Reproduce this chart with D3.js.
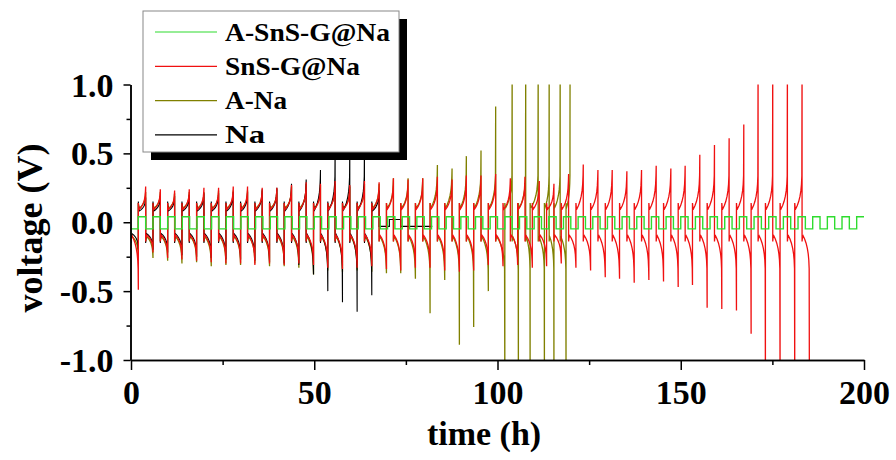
<!DOCTYPE html>
<html><head><meta charset="utf-8">
<script src="https://cdn.jsdelivr.net/npm/d3@7"></script>
<style>body{margin:0;background:#fff;overflow:hidden}</style>
</head><body><svg id="c" width="896" height="460"></svg>
<script>
// ---------------- data ----------------
const xTicks = [0, 50, 100, 150, 200];
const xTickLabels = ["0", "50", "100", "150", "200"];
const xMinorTicks = [25, 75, 125, 175];
const yTicks = [-1.0, -0.5, 0.0, 0.5, 1.0];
const yTickLabels = ["-1.0", "-0.5", "0.0", "0.5", "1.0"];
const yMinorTicks = [-0.75, -0.25, 0.25, 0.75];
const seriesNames = ["A-SnS-G@Na", "SnS-G@Na", "A-Na", "Na"];
const seriesColors = ["#2edc2e", "#f01010", "#808000", "#000000"];

// end time (h) of each half-cycle; halves alternate, starting with a negative one
const redTurnT = [2.0,4.0,6.0,8.0,10.0,11.9,13.9,15.9,17.9,19.9,21.9,23.9,25.9,27.9,29.9,31.8,33.8,35.8,37.8,39.8,
  41.8,43.8,45.8,47.8,49.8,51.7,53.7,55.7,57.7,59.7,61.7,63.7,65.7,67.7,69.7,71.6,73.6,75.6,77.6,79.6,
  81.6,83.6,85.6,87.6,89.6,91.5,93.5,95.5,97.5,99.5,101.5,103.5,105.5,107.5,109.5,111.4,113.4,115.4,117.4,119.4,
  121.4,123.4,125.4,127.4,129.4,131.3,133.3,135.3,137.3,139.3,141.3,143.3,145.3,147.3,149.3,151.2,153.2,155.2,157.2,159.2,
  161.2,163.2,165.2,167.2,169.2,171.1,173.1,175.1,177.1,179.1,181.1,183.1,185.1];
const redNegPeak = [-0.49,-0.22,-0.26,-0.27,-0.28,-0.29,-0.30,-0.30,-0.31,-0.30,-0.31,-0.30,-0.31,-0.33,-0.34,-0.33,
  -0.32,-0.34,-0.35,-0.33,-0.33,-0.35,-0.36,-0.35,-0.31,-0.32,-0.31,-0.33,-0.32,-0.30,-0.33,-0.35,-0.40,-0.41,-0.44,
  -0.42,-0.43,-0.47,-0.455,-0.62,-0.63,-0.64,-0.81,-1.2,-1.2,-1.2,-1.2];
const redPosPeak = [0.26,0.24,0.23,0.24,0.25,0.25,0.26,0.26,0.25,0.25,0.27,0.29,0.28,0.30,0.27,0.30,0.29,0.32,0.31,0.32,
  0.33,0.31,0.34,0.34,0.35,0.32,0.33,0.30,0.28,0.35,0.42,0.38,0.38,0.37,0.38,0.41,0.39,0.41,0.49,0.56,
  0.61,0.71,1.2,1.2,1.2,1.2];

const oliveTurnT = [2.0,4.0,6.0,8.0,10.0,11.9,13.9,15.9,17.9,19.9,21.9,23.9,25.9,27.9,29.9,31.8,33.8,35.8,37.8,39.8,
  41.8,43.8,45.8,47.8,49.8,51.7,53.7,55.7,57.7,59.7,61.7,63.7,65.7,67.7,69.7,71.6,73.6,75.6,77.6,79.6,
  81.6,83.6,85.6,87.6,89.6,91.5,93.5,95.5,97.5,99.5,102.0,104.0,105.7,107.7,108.9,111.1,112.8,114.1,115.4,117.1,118.7,119.8];
const oliveNegPeak = [-0.25,-0.26,-0.28,-0.30,-0.29,-0.32,-0.31,-0.31,-0.30,-0.32,-0.32,-0.33,-0.38,-0.35,-0.36,-0.35,
  -0.36,-0.37,-0.37,-0.41,-0.66,-0.42,-0.89,-0.76,-0.50,-1.2,-1.2,-1.2,-1.2,-1.2,-1.2];
const olivePosPeak = [0.22,0.22,0.21,0.22,0.22,0.23,0.23,0.23,0.23,0.24,0.26,0.28,0.27,0.28,0.26,0.28,0.28,0.32,0.32,0.32,
  0.415,0.39,0.48,0.52,0.84,1.2,1.2,1.2,1.2,1.2,1.2];

const blackTurnT = [2.0,4.0,6.0,8.0,10.0,11.9,13.9,15.9,17.9,19.9,21.9,23.9,25.9,27.9,29.9,31.8,33.8,35.8,37.8,39.8,
  41.8,43.8,45.8,47.8,49.8,51.7,53.7,55.7,57.7,59.7,61.7,63.7,65.7,67.7];
const blackNegPeak = [-0.20,-0.20,-0.22,-0.24,-0.25,-0.26,-0.27,-0.27,-0.28,-0.29,-0.30,-0.31,-0.38,-0.50,-0.58,-0.65,-0.53];
const blackPosPeak = [0.18,0.19,0.19,0.20,0.21,0.21,0.22,0.22,0.24,0.25,0.28,0.31,0.38,0.62,0.62,0.62,0.23];
// shorted "Na" cell after ~68 h
const blackTailT = [67.7, 70.5, 70.5, 73.6, 73.6, 82.2];
const blackTailV = [-0.03, -0.03, 0.02, 0.02, -0.03, -0.03];

// green: end time of each constant step, and its level
const greenTurnT = [2,4,6,8,10,12,14,16,18,20,22,24,26,28,30,32,34,36,38,40,42,44,46,48,50,52,54,56,58,60,
  62,64,66,68,70,72,74,76,78,80,82,84,86,88,90,92,94,96,98,100,102,104,106,108,110,112,114,116,118,120,
  122,124,126,128,130,132,134,136,138,140,142,144,146,148,150,152,154,156,158,160,162,164,166,168,170,172,174,176,178,180,
  182,184,186,188,190,192,194,196,198,200];
const greenLevel = [-0.048,0.04,-0.048,0.04,-0.048,0.04,-0.048,0.04,-0.048,0.04,-0.048,0.04,-0.048,0.04,-0.048,0.04,-0.048,0.04,-0.048,0.04,
  -0.048,0.04,-0.048,0.04,-0.048,0.04,-0.048,0.04,-0.048,0.04,-0.048,0.04,-0.048,0.04,-0.048,0.04,-0.048,0.04,-0.048,0.04,
  -0.048,0.04,-0.048,0.04,-0.048,0.04,-0.048,0.04,-0.048,0.04,-0.048,0.04,-0.048,0.04,-0.048,0.04,-0.048,0.04,-0.048,0.04,
  -0.048,0.04,-0.048,0.04,-0.048,0.04,-0.048,0.04,-0.048,0.04,-0.048,0.04,-0.048,0.04,-0.048,0.04,-0.048,0.04,-0.048,0.04,
  -0.048,0.04,-0.048,0.04,-0.048,0.04,-0.048,0.04,-0.048,0.04,-0.048,0.04,-0.048,0.04,-0.048,0.04,-0.048,0.04,-0.048,0.04];

// shape of one half-cycle (fraction of the half, hook weight, rise weight)
const halfU = [0, 0.04, 0.15, 0.35, 0.55, 0.72, 0.84, 0.92, 0.97, 1];
const hookW = [1, 0.5, 0, 0, 0, 0, 0, 0, 0, 0];
const riseW = [0, 0, 0.03, 0.1, 0.2, 0.32, 0.45, 0.6, 0.8, 1];
const bodyCap = 0.4;   // the curved body never exceeds this before the final spike

// ---------------- build ----------------
function cycles(turnT, negPeak, posPeak, plateau, hook) {
  const pts = [];
  let t0 = 0, ni = 0, pi = 0;
  turnT.forEach((t1, k) => {
    const peak = k % 2 === 0 ? negPeak[ni++] : posPeak[pi++];
    const s = Math.sign(peak), a = Math.abs(peak), b = Math.min(a, bodyCap);
    halfU.forEach((u, j) => {
      const last = j === halfU.length - 1;
      const v = last ? peak : s * (plateau + hook * hookW[j] + (b - plateau) * riseW[j]);
      pts.push([t0 + (t1 - t0) * u, v]);
    });
    t0 = t1;
  });
  return pts;
}
function steps(turnT, level) {
  const pts = [];
  let t0 = 0;
  turnT.forEach((t1, k) => { pts.push([t0, level[k]], [t1, level[k]]); t0 = t1; });
  return pts;
}
const redPts = cycles(redTurnT, redNegPeak, redPosPeak, 0.09, 0.05);
const olivePts = cycles(oliveTurnT, oliveNegPeak, olivePosPeak, 0.10, 0.04);
const blackPts = cycles(blackTurnT, blackNegPeak, blackPosPeak, 0.08, 0.07)
  .concat(blackTailT.map((t, i) => [t, blackTailV[i]]));
const greenPts = steps(greenTurnT, greenLevel);

// ---------------- draw ----------------
const svg = d3.select("#c");
const x = d3.scaleLinear([0, 200], [131, 864]);
const y = d3.scaleLinear([-1, 1], [360, 84.5]);
const font = "'Liberation Serif','Times New Roman',serif";

svg.append("defs").append("clipPath").attr("id", "clip")
  .append("rect").attr("x", x(0)).attr("y", y(1)).attr("width", x(200) - x(0)).attr("height", y(-1) - y(1));

const line = d3.line().x(d => x(d[0])).y(d => y(d[1]));
const g = svg.append("g").attr("clip-path", "url(#clip)");
[[olivePts, seriesColors[2], 1.3], [blackPts, seriesColors[3], 1.1], [redPts, seriesColors[1], 1.3], [greenPts, seriesColors[0], 1.4]]
  .forEach(([pts, c, w]) => {
    g.append("path").attr("d", line(pts)).attr("fill", "none").attr("stroke", c)
      .attr("stroke-width", w).attr("stroke-linejoin", "miter");
  });

// axes
const yAxis = svg.append("g").attr("transform", `translate(${x(0) - 0.5},0)`)
  .call(d3.axisLeft(y).tickValues(yTicks).tickSize(7).tickSizeOuter(0).tickPadding(10)
    .tickFormat((d, i) => yTickLabels[i]));
svg.append("g").attr("transform", `translate(${x(0) - 0.5},0)`)
  .call(d3.axisLeft(y).tickValues(yMinorTicks).tickSize(4).tickSizeOuter(0).tickFormat(""));
const xAxis = svg.append("g").attr("transform", `translate(0,${y(-1)})`)
  .call(d3.axisBottom(x).tickValues(xTicks).tickSize(10).tickSizeOuter(0).tickPadding(10)
    .tickFormat((d, i) => xTickLabels[i]));
svg.append("g").attr("transform", `translate(0,${y(-1)})`)
  .call(d3.axisBottom(x).tickValues(xMinorTicks).tickSize(5).tickSizeOuter(0).tickFormat(""));
svg.selectAll(".domain").attr("stroke", "#000").attr("stroke-width", 1.5);
svg.selectAll(".tick line").attr("stroke", "#000").attr("stroke-width", 1.5);
svg.selectAll(".tick text").attr("font-family", font).attr("font-weight", "bold")
  .attr("font-size", 34).attr("fill", "#000");
yAxis.selectAll(".tick text").attr("dy", "0.34em");
xAxis.selectAll(".tick text").attr("dy", "0.7em");

svg.append("text").attr("x", 484).attr("y", 445).attr("text-anchor", "middle")
  .attr("font-family", font).attr("font-weight", "bold").attr("font-size", 34).text("time (h)");
svg.append("text").attr("transform", "translate(42,228) rotate(-90)").attr("text-anchor", "middle")
  .attr("font-family", font).attr("font-weight", "bold").attr("font-size", 36).text("voltage (V)");

// legend
const lg = svg.append("g");
lg.append("rect").attr("x", 151).attr("y", 19).attr("width", 256).attr("height", 141).attr("fill", "#000");
lg.append("rect").attr("x", 143).attr("y", 11).attr("width", 256).attr("height", 141)
  .attr("fill", "#fff").attr("stroke", "#888").attr("stroke-width", 1);
const legendW = [165, 135, 62, 40];
seriesNames.forEach((n, i) => {
  const yy = 32 + i * 34.3;
  lg.append("line").attr("x1", 155).attr("x2", 217).attr("y1", yy).attr("y2", yy)
    .attr("stroke", seriesColors[i]).attr("stroke-width", 1.2);
  lg.append("text").attr("x", 225).attr("y", yy + 8.5).attr("font-family", font).attr("font-weight", "bold")
    .attr("font-size", 25).attr("textLength", legendW[i]).attr("lengthAdjust", "spacingAndGlyphs").text(n);
});
</script></body></html>
